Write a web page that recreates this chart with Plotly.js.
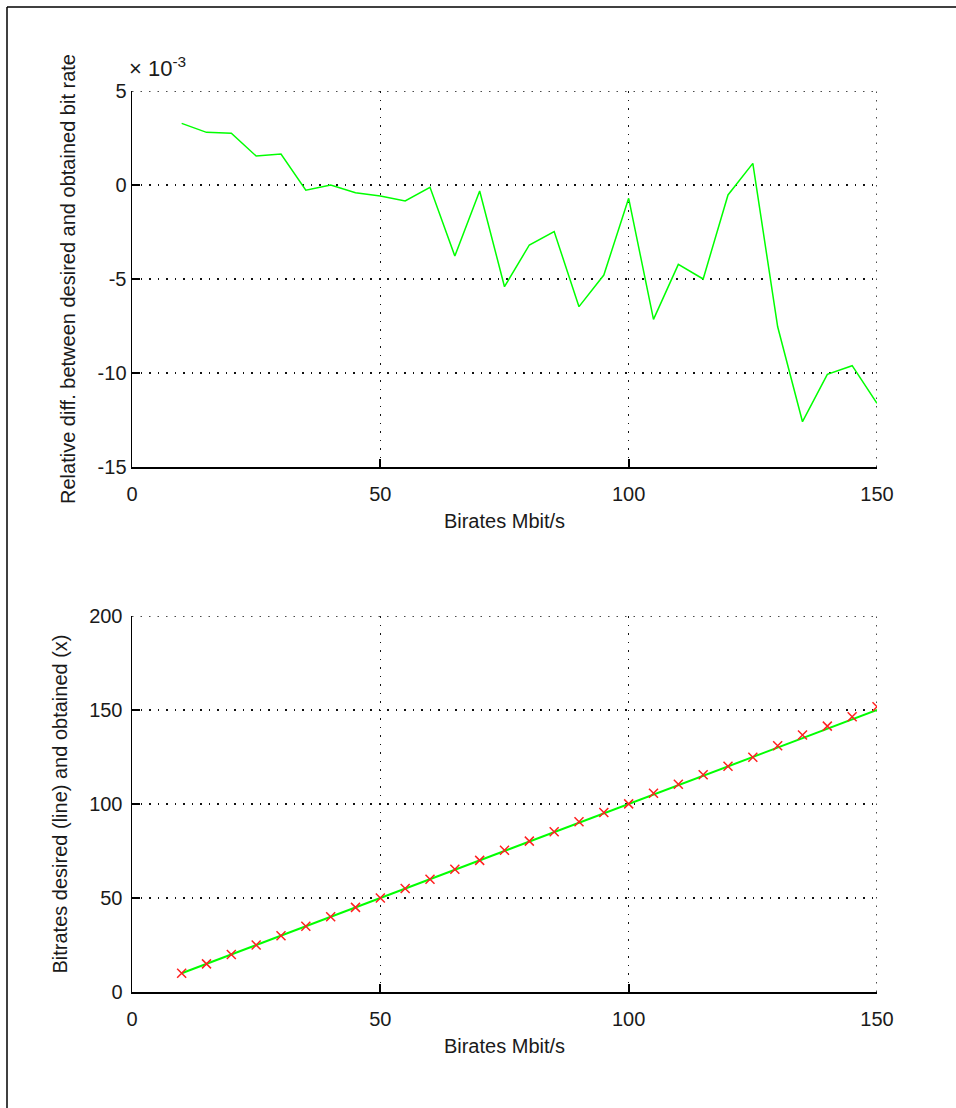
<!DOCTYPE html>
<html>
<head>
<meta charset="utf-8">
<script src="https://cdn.plot.ly/plotly-3.0.1.min.js"></script>
<style>
html,body{margin:0;padding:0;background:#fff;}
#chart{width:956px;height:1108px;}
</style>
</head>
<body>
<div id="chart"></div>
<script>
// Bitrates (Mbit/s) desired
const bitrates = [10,15,20,25,30,35,40,45,50,55,60,65,70,75,80,85,90,95,100,105,110,115,120,125,130,135,140,145,150];
// Relative difference between desired and obtained bit rate, in units of 1e-3
const relDiffE3 = [3.28,2.80,2.75,1.54,1.65,-0.28,0.0,-0.41,-0.59,-0.85,-0.12,-3.78,-0.32,-5.41,-3.19,-2.48,-6.47,-4.79,-0.71,-7.15,-4.22,-5.0,-0.53,1.15,-7.54,-12.59,-10.07,-9.61,-11.61];
// Obtained bitrates (markers)
const obtained = [9.97,14.96,19.95,24.96,29.95,35.01,40.00,45.02,50.03,55.05,60.01,65.25,70.02,75.41,80.26,85.21,90.58,95.46,100.07,105.75,110.46,115.58,120.06,124.86,130.98,136.70,141.41,146.39,151.74];
const xTicks = [0,50,100,150];
const yTicksTop = [-15,-10,-5,0,5];
const yTicksBottom = [0,50,100,150,200];

const W = 956, H = 1108;
const FONT = {family: '"Liberation Sans", Arial, sans-serif', size: 20, color: '#1a1a1a'};
const GRIDDASH = '1.5px,7px';

const xdom = [132/W, 877/W];
const topDom = [(H-467)/H, (H-91)/H];
const botDom = [(H-992)/H, (H-616)/H];

function axisBase(extra){
  return Object.assign({
    showline: true, linecolor: '#000', linewidth: 1.5,
    ticks: 'inside', ticklen: 8, tickwidth: 2, tickcolor: '#000',
    showgrid: true, gridcolor: '#111', gridwidth: 1.5, griddash: GRIDDASH,
    zeroline: false, mirror: false,
    tickfont: FONT, automargin: false, fixedrange: true
  }, extra);
}

const traces = [
  {x: bitrates, y: relDiffE3, type: 'scatter', mode: 'lines',
   line: {color: '#00ff00', width: 1.5}, xaxis: 'x', yaxis: 'y', hoverinfo: 'skip'},
  {x: bitrates, y: bitrates, type: 'scatter', mode: 'lines',
   line: {color: '#00ff00', width: 2}, xaxis: 'x2', yaxis: 'y2', hoverinfo: 'skip'},
  {x: bitrates, y: obtained, type: 'scatter', mode: 'markers',
   marker: {symbol: 'x-thin', size: 9, line: {color: '#ff2020', width: 1.5}, color: '#ff2020'},
   xaxis: 'x2', yaxis: 'y2', hoverinfo: 'skip'}
];

// dotted frame lines on the open (top / right) edges, drawn in axis coordinates
function edgeLines(xa, ya, xr, yr){
  return [
    {type: 'line', xref: xa, yref: ya, x0: xr[0], x1: xr[1], y0: yr[1], y1: yr[1], layer: 'below',
     line: {color: '#111', width: 1.5, dash: GRIDDASH}},
    {type: 'line', xref: xa, yref: ya, x0: xr[1], x1: xr[1], y0: yr[0], y1: yr[1], layer: 'below',
     line: {color: '#111', width: 1.5, dash: GRIDDASH}}
  ];
}

const layout = {
  width: W, height: H,
  margin: {l: 0, r: 0, t: 0, b: 0},
  paper_bgcolor: '#fff', plot_bgcolor: '#fff',
  showlegend: false,
  font: FONT,
  xaxis: axisBase({domain: xdom, anchor: 'y', range: [0,150], tickvals: xTicks, ticktext: xTicks.map(String),
    ticklabelstandoff: 8,
    title: {text: 'Birates Mbit/s', font: FONT, standoff: 10}}),
  yaxis: axisBase({domain: topDom, anchor: 'x', range: [-15,5], tickvals: yTicksTop, ticktext: yTicksTop.map(String),
    title: {text: 'Relative diff. between desired and obtained bit rate', font: FONT, standoff: 16}}),
  xaxis2: axisBase({domain: xdom, anchor: 'y2', range: [0,150], tickvals: xTicks, ticktext: xTicks.map(String),
    ticklabelstandoff: 8,
    title: {text: 'Birates Mbit/s', font: FONT, standoff: 10}}),
  yaxis2: axisBase({domain: botDom, anchor: 'x2', range: [0,200], tickvals: yTicksBottom, ticktext: yTicksBottom.map(String),
    ticklabelstandoff: 4,
    title: {text: 'Bitrates desired (line) and obtained (x)', font: FONT, standoff: 16}}),
  annotations: [
    {text: '× 10<sup>-3</sup>', xref: 'paper', yref: 'paper', x: 127/W, y: (H-83)/H,
     xanchor: 'left', yanchor: 'bottom', showarrow: false, font: {family: FONT.family, size: 22, color: '#1a1a1a'}}
  ],
  shapes: [
    {type: 'line', xref: 'paper', yref: 'paper', x0: 7/W, x1: 1, y0: (H-7)/H, y1: (H-7)/H, line: {color: '#000', width: 1.5}},
    {type: 'line', xref: 'paper', yref: 'paper', x0: 7/W, x1: 7/W, y0: 0, y1: (H-7)/H, line: {color: '#000', width: 1.5}}
  ].concat(edgeLines('x', 'y', [0,150], [-15,5])).concat(edgeLines('x2', 'y2', [0,150], [0,200]))
};

Plotly.newPlot('chart', traces, layout, {staticPlot: true, displayModeBar: false});
</script>
</body>
</html>
